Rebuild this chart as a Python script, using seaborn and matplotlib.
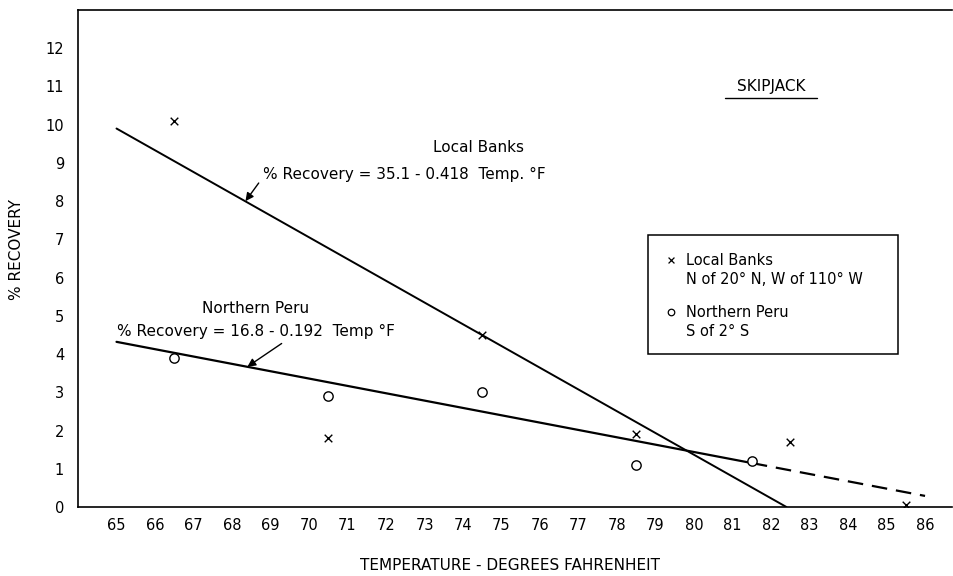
import numpy as np
import pandas as pd
import seaborn as sns
import matplotlib.pyplot as plt

local_temp = [66.5, 70.5, 74.5, 78.5, 82.5, 85.5]
local_recovery = [10.1, 1.8, 4.5, 1.9, 1.7, 0.05]
peru_temp = [66.5, 70.5, 74.5, 78.5, 81.5]
peru_recovery = [3.9, 2.9, 3.0, 1.1, 1.2]

# fitted lines as drawn
local_fit_temp = [65, 82.4]
local_fit_rec = [9.9, 0.0]
peru_fit_temp = [65, 81.5]
peru_fit_rec = [4.32, 1.15]
peru_ext_temp = [81.5, 86]
peru_ext_rec = [1.15, 0.29]

x_ticks = list(range(65, 87))
y_ticks = list(range(0, 13))

sns.set_style("white")
plt.rcParams['font.family'] = ['DejaVu Sans']
plt.rcParams['text.color'] = 'black'

fig = plt.figure(figsize=(9.54, 5.76), dpi=100)
ax = fig.add_axes([78 / 954, 69 / 576, 874 / 954, 497 / 576])

sns.lineplot(x=local_fit_temp, y=local_fit_rec, ax=ax, color="black", lw=1.4)
sns.lineplot(x=peru_fit_temp, y=peru_fit_rec, ax=ax, color="black", lw=1.6)
sns.lineplot(x=peru_ext_temp, y=peru_ext_rec, ax=ax, color="black", lw=1.6,
             linestyle=(0, (7, 4)))

sns.scatterplot(x=local_temp, y=local_recovery, ax=ax, marker="x", s=30,
                color="black", linewidth=1.0, zorder=5)
sns.scatterplot(x=peru_temp, y=peru_recovery, ax=ax, marker="o", s=45,
                facecolor="white", edgecolor="black", linewidth=1.0, zorder=5)

ax.set_xlim(64, 86.7)
ax.set_ylim(0, 13)
ax.set_xticks(x_ticks)
ax.set_yticks(y_ticks)
ax.tick_params(axis="both", direction="in", length=7, width=1, colors="black",
               labelsize=10.5)
ax.tick_params(axis="x", pad=8)
ax.tick_params(axis="y", pad=10)
for s in ["left", "bottom", "top"]:
    ax.spines[s].set_color("black")
    ax.spines[s].set_linewidth(1.2)
ax.spines["right"].set_visible(False)

fig.text(510 / 954, 1 - 566 / 576, "TEMPERATURE - DEGREES FAHRENHEIT",
         fontsize=11, ha="center", va="center")
fig.text(17 / 954, 1 - 250 / 576, "% RECOVERY", fontsize=11, rotation=90,
         ha="center", va="center")

# equation labels
ax.text(74.4, 9.4, "Local Banks", fontsize=11, ha="center", va="center")
ax.annotate("% Recovery = 35.1 - 0.418  Temp. °F", xy=(68.35, 8.0),
            xytext=(68.8, 8.7), fontsize=11, va="center", ha="left",
            arrowprops=dict(arrowstyle="-|>", color="black", lw=1, mutation_scale=12,
                            shrinkA=1, shrinkB=0, relpos=(0.0, 0.3)))
ax.text(68.6, 5.2, "Northern Peru", fontsize=11, ha="center", va="center")
ax.annotate("% Recovery = 16.8 - 0.192  Temp °F", xy=(68.4, 3.67),
            xytext=(65.0, 4.6), fontsize=11, va="center", ha="left",
            textcoords="data",
            arrowprops=dict(arrowstyle="-|>", color="black", lw=1, mutation_scale=12,
                            shrinkA=2, shrinkB=0, relpos=(0.62, 0.0)))

ax.text(82.0, 11.0, "SKIPJACK", fontsize=11, ha="center", va="center")
ax.plot([80.8, 83.2], [10.7, 10.7], color="black", lw=1)

# legend box
box_x0, box_x1 = 78.8, 85.3
ax.add_patch(plt.Rectangle((box_x0, 4.0), box_x1 - box_x0, 3.12, fill=False,
                           edgecolor="black", lw=1.1))
ax.scatter([79.4], [6.45], marker="x", s=18, color="black", linewidth=0.9)
ax.text(79.8, 6.45, "Local Banks", fontsize=10.5, va="center")
ax.text(79.8, 5.95, "N of 20° N, W of 110° W", fontsize=10.5, va="center")
ax.scatter([79.4], [5.1], marker="o", s=22, facecolor="white", edgecolor="black",
           linewidth=0.9)
ax.text(79.8, 5.1, "Northern Peru", fontsize=10.5, va="center")
ax.text(79.8, 4.6, "S of 2° S", fontsize=10.5, va="center")

fig.savefig("out.png", dpi=100)
